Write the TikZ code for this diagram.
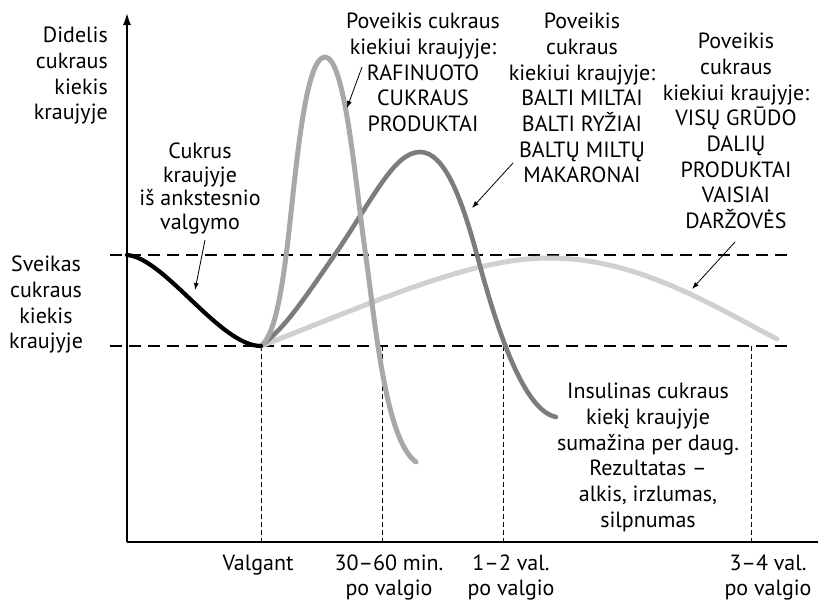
\documentclass[tikz,border=0pt]{standalone}
\usepackage{fontspec}
\setmainfont{PT Sans}
\usetikzlibrary{arrows.meta}

\definecolor{lightcurve}{HTML}{D0D0D0}
\definecolor{spikecurve}{HTML}{A8A8A8}
\definecolor{darkcurve}{HTML}{7C7C7C}

\tikzset{
  txt/.style={inner sep=0pt, align=center, font=\fontsize{22}{25.7}\selectfont},
  timelbl/.style={txt, anchor=north, font=\fontsize{22}{24.5}\selectfont},
  level/.style={line width=2.4pt, dash pattern=on 12pt off 7pt},
  tick/.style={line width=0.9pt, dash pattern=on 5pt off 3pt},
  curve/.style={line width=5pt, line cap=round, line join=round},
  pointer/.style={line width=0.8pt, -{Latex[length=7pt,width=5pt]}}
}

\begin{document}
\begin{tikzpicture}[x=1pt,y=-1pt]
	\useasboundingbox (0,0) rectangle (818,603);
	% axes
	\draw [line width=2.6pt, -{Latex[length=13pt,width=8pt]}] (127,542) -- (127,12);
	\draw [line width=2.6pt] (127,542) -- (818,542);
	% levels
	\draw [level] (110,255) -- (791,255);
	\draw [level] (110,346) -- (791,346);
	% time ticks
	\foreach \tx in {261,382,503,751}
		\draw [tick] (\tx,346) -- (\tx,542);
	% curves
	\coordinate (meal) at (261,346);
	\draw [curve, lightcurve] (meal) .. controls (380,300) and (470,258) .. (550,258)
		.. controls (640,258) and (720,310) .. (777,339);
	\draw [curve, darkcurve, line width=4.6pt] (meal) .. controls (285,327) and (298,308) .. (338,250)
		.. controls (375,195) and (395,152) .. (420,152)
		.. controls (445,152) and (462,200) .. (477,255)
		.. controls (492,310) and (520,410) .. (556,417);
	\draw [curve, spikecurve] (meal) .. controls (275,335) and (282,290) .. (288,240)
		.. controls (296,170) and (305,57) .. (325,57)
		.. controls (345,57) and (355,180) .. (365,250)
		.. controls (375,320) and (385,440) .. (416,462);
	\draw [curve, black, line width=4.2pt] (127,255) .. controls (165,258) and (220,346) .. (meal);
	% labels
	\node [txt, anchor=north east, align=right] (high) at (108,27) {Didelis\\cukraus\\kiekis\\kraujyje};
	\node [txt, anchor=north] (healthy) at (46,256) {Sveikas\\cukraus\\kiekis\\kraujyje};
	\node [txt, anchor=north, font=\fontsize{22}{23.5}\selectfont] (prev) at (200,143) {Cukrus\\kraujyje\\iš ankstesnio\\valgymo};
	\node [txt, anchor=north] (refined) at (423,13) {Poveikis cukraus\\kiekiui kraujyje:\\RAFINUOTO\\CUKRAUS\\PRODUKTAI};
	\node [txt, anchor=north] (white) at (582,13) {Poveikis\\cukraus\\kiekiui kraujyje:\\BALTI MILTAI\\BALTI RYŽIAI\\BALTŲ MILTŲ\\MAKARONAI};
	\node [txt, anchor=north] (whole) at (736,33) {Poveikis\\cukraus\\kiekiui kraujyje:\\VISŲ GRŪDO\\DALIŲ\\PRODUKTAI\\VAISIAI\\DARŽOVĖS};
	\node [txt, anchor=north] (insulin) at (648,383) {Insulinas cukraus\\kiekį kraujyje\\sumažina per daug.\\Rezultatas –\\alkis, irzlumas,\\silpnumas};
	\node [timelbl] (t0) at (258,555) {Valgant};
	\node [timelbl] (t1) at (389,555) {30–60 min.\\po valgio};
	\node [timelbl] (t2) at (511,555) {1–2 val.\\po valgio};
	\node [timelbl] (t3) at (768,555) {3–4 val.\\po valgio};
	% pointers
	\coordinate (prevFrom) at (205,240);
	\coordinate (prevTip) at (195,290);
	\coordinate (refinedFrom) at (362,67);
	\coordinate (refinedTip) at (347,108);
	\coordinate (whiteFrom) at (513,163);
	\coordinate (whiteTip) at (472,208);
	\coordinate (wholeFrom) at (735,242);
	\coordinate (wholeTip) at (692,289);
	\draw [pointer] (prevFrom) -- (prevTip);
	\draw [pointer] (refinedFrom) -- (refinedTip);
	\draw [pointer] (whiteFrom) -- (whiteTip);
	\draw [pointer] (wholeFrom) -- (wholeTip);
\end{tikzpicture}
\end{document}
